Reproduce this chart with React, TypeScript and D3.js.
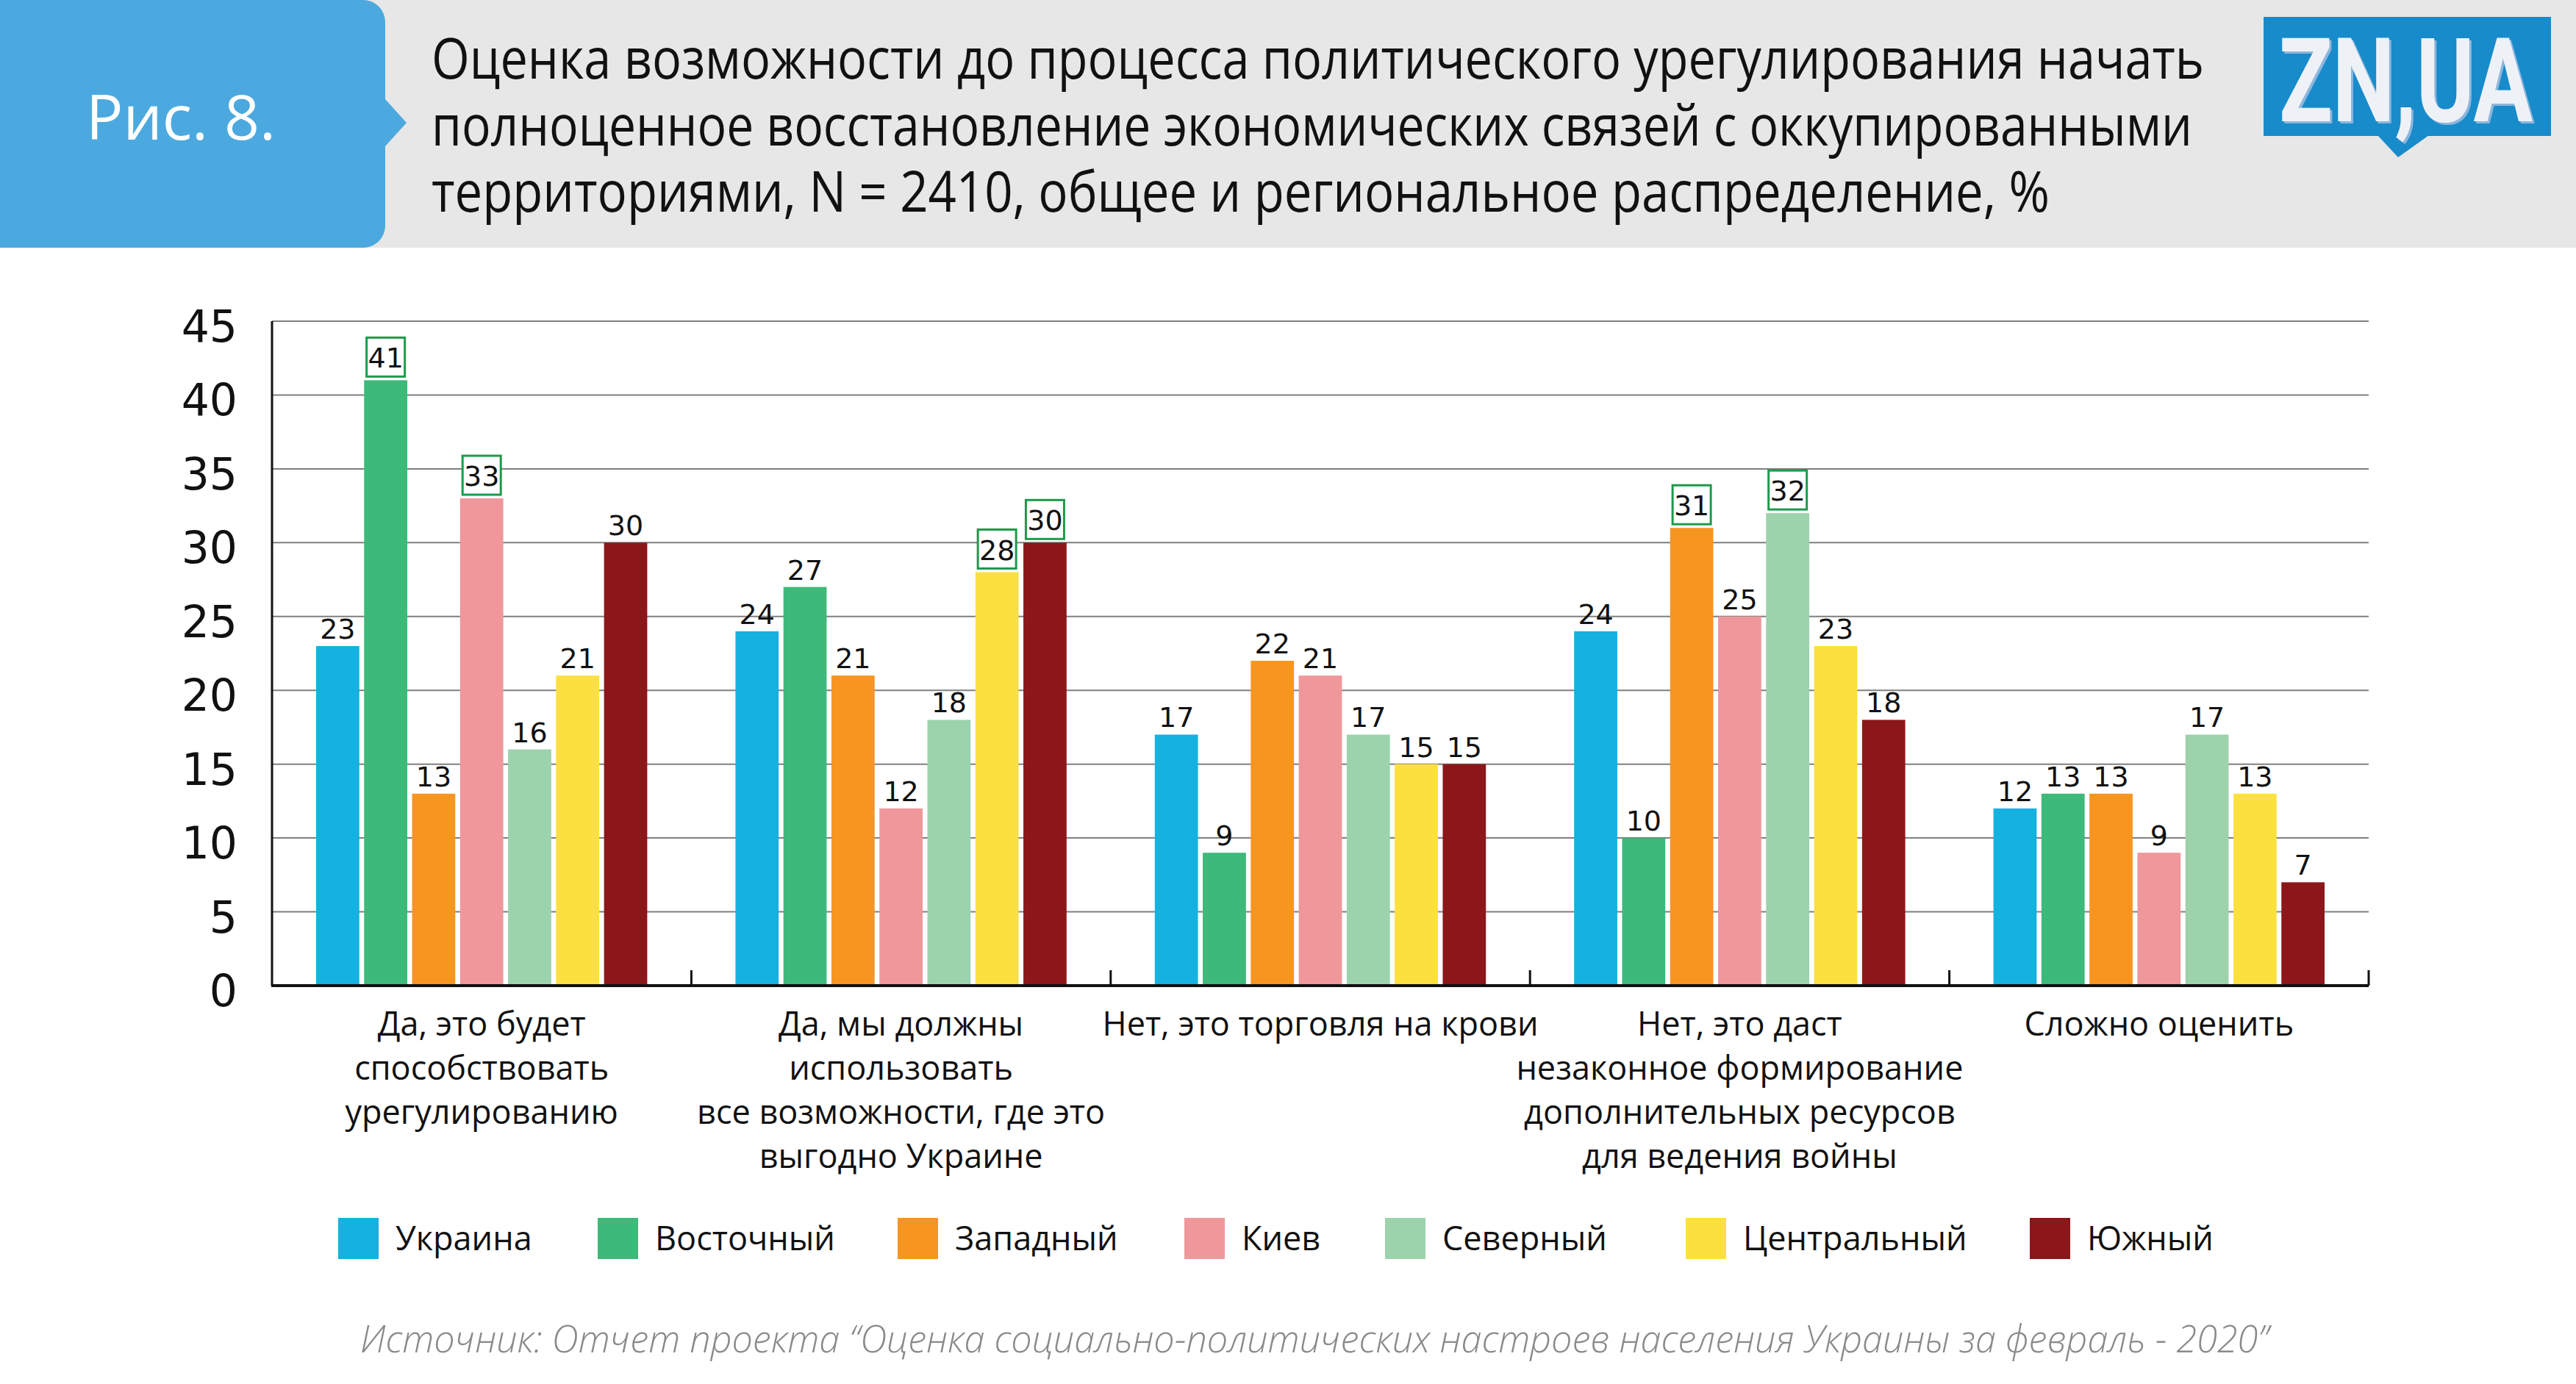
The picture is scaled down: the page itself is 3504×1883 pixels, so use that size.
import React from "react";
import * as d3 from "d3";

const W = 3504;
const H = 1883;

const categories = ["c1", "c2", "c3", "c4", "c5"];
const categoryLines = [
  ["Да, это будет", "способствовать", "урегулированию"],
  ["Да, мы должны", "использовать", "все возможности, где это", "выгодно Украине"],
  ["Нет, это торговля на крови"],
  ["Нет, это даст", "незаконное формирование", "дополнительных ресурсов", "для ведения войны"],
  ["Сложно оценить"],
];

const seriesNames = ["Украина", "Восточный", "Западный", "Киев", "Северный", "Центральный", "Южный"];
const seriesColors = ["#15B1E0", "#3DB979", "#F79521", "#EF979A", "#9CD3AC", "#FCE040", "#8B171B"];

const ukraine = [23, 24, 17, 24, 12];
const east = [41, 27, 9, 10, 13];
const west = [13, 21, 22, 31, 13];
const kyiv = [33, 12, 21, 25, 9];
const north = [16, 18, 17, 32, 17];
const center = [21, 28, 15, 23, 13];
const south = [30, 30, 15, 18, 7];
const seriesValues = [ukraine, east, west, kyiv, north, center, south];

// [series index, category index] of boxed labels
const highlights = [[1, 0], [3, 0], [5, 1], [6, 1], [2, 3], [4, 3]];

const yTicks = [0, 5, 10, 15, 20, 25, 30, 35, 40, 45];

const titleLines = [
  "Оценка возможности до процесса политического урегулирования начать",
  "полноценное восстановление экономических связей с оккупированными",
  "территориями, N = 2410, общее и региональное распределение, %",
];
const titleWidths = [2411, 2395, 2201];
const source = "Источник: Отчет проекта “Оценка социально-политических настроев населения Украины за февраль - 2020”";

export default function App() {
  const left = 370;
  const right = 3222;
  const y = d3.scaleLinear().domain([0, 45]).range([1341, 437]);
  const x0 = d3.scaleBand<string>().domain(categories).range([left, right]);
  const bw0 = x0.bandwidth();
  const x1 = d3.scaleBand<string>().domain(seriesNames).range([60, bw0 - 60]).paddingInner(0.1);
  const bw = x1.bandwidth();
  const isHi = (s: number, c: number) => highlights.some(([a, b]) => a === s && b === c);
  const font = "'Open Sans', 'Noto Sans', sans-serif";
  const numFont = "'DejaVu Sans', sans-serif";

  const legendX = [460, 813, 1221, 1611, 1884, 2293, 2761];

  const r = 30;
  const bx = 524;
  const bh = 337;
  const boxPath = `M0,0 H${bx - r} A${r},${r} 0 0 1 ${bx},${r} V135 L553,167 L${bx},199 V${bh - r} A${r},${r} 0 0 1 ${bx - r},${bh} H0 Z`;

  return (
    <svg width={W} height={H} style={{ position: "absolute", left: 0, top: 0, display: "block", background: "#fff" }}>
      <defs>
        <filter id="logoShadow" x="-5%" y="-5%" width="110%" height="115%">
          <feDropShadow dx={3} dy={3} stdDeviation={0.5} floodColor="#8DB6DC" floodOpacity={1} />
        </filter>
      </defs>
      <rect x={0} y={0} width={W} height={H} fill="#fff" />
      {/* header */}
      <rect x={0} y={0} width={W} height={bh} fill="#E7E7E7" />
      <path d={boxPath} fill="#4CA9DF" />
      <text x={246} y={190} fill="#fff" fontFamily={font} fontSize={84} textAnchor="middle">Рис. 8.</text>
      {titleLines.map((t, i) => (
        <text key={i} x={587} y={107 + i * 90.5} fontFamily={font} fontSize={76} fill="#111"
          textLength={titleWidths[i]} lengthAdjust="spacingAndGlyphs">{t}</text>
      ))}
      {/* logo */}
      <rect x={3079} y={23} width={391} height={162} fill="#188BCB" />
      <path d="M3234,184 L3262,214 L3304,184 Z" fill="#188BCB" />
      <text x={3100} y={165} fontFamily="'Liberation Sans Narrow', 'Roboto', sans-serif" fontWeight="bold" fontSize={160}
        fill="#EEF2F7" textLength={345} lengthAdjust="spacingAndGlyphs" filter="url(#logoShadow)">ZN,UA</text>

      {/* gridlines */}
      {yTicks.filter((t) => t > 0).map((t) => (
        <line key={t} x1={left} x2={right} y1={y(t)} y2={y(t)} stroke="#7F7F7F" strokeWidth={2} />
      ))}
      {/* y tick labels */}
      {yTicks.map((t) => (
        <text key={t} x={323} y={y(t) + 28} textAnchor="end" fontFamily={numFont} fontSize={60} fill="#111">{t}</text>
      ))}

      {/* bars */}
      {categories.map((c, ci) => (
        <g key={c} transform={`translate(${x0(c)},0)`}>
          {seriesNames.map((s, si) => {
            const v = seriesValues[si][ci];
            const bx1 = x1(s) as number;
            const cx = bx1 + bw / 2;
            const hi = isHi(si, ci);
            return (
              <g key={s}>
                <rect x={bx1} y={y(v)} width={bw} height={y(0) - y(v)} fill={seriesColors[si]} />
                {hi && (
                  <rect x={cx - 26} y={y(v) - 58} width={52} height={53} fill="#fff" stroke="#1E9A4B" strokeWidth={3} />
                )}
                <text x={cx} y={y(v) - (hi ? 17 : 10)} textAnchor="middle" fontFamily={numFont} fontSize={38} fill="#111">{v}</text>
              </g>
            );
          })}
        </g>
      ))}

      {/* axes */}
      <line x1={left} x2={left} y1={y(45)} y2={y(0)} stroke="#111" strokeWidth={3} />
      <line x1={left - 1} x2={right} y1={y(0)} y2={y(0)} stroke="#111" strokeWidth={4} />
      {categories.map((c) => (
        <line key={c} x1={(x0(c) as number) + bw0} x2={(x0(c) as number) + bw0} y1={y(0)} y2={y(0) - 21} stroke="#111" strokeWidth={3} />
      ))}

      {/* category labels */}
      {categories.map((c, ci) => (
        <text key={c} textAnchor="middle" fontFamily={font} fontSize={45} fill="#111">
          {categoryLines[ci].map((l, li) => (
            <tspan key={li} x={(x0(c) as number) + bw0 / 2} y={1409 + li * 60}>{l}</tspan>
          ))}
        </text>
      ))}

      {/* legend */}
      {seriesNames.map((s, i) => (
        <g key={s}>
          <rect x={legendX[i]} y={1657} width={55} height={56} fill={seriesColors[i]} />
          <text x={legendX[i] + 78} y={1701} fontFamily={font} fontSize={45} fill="#111">{s}</text>
        </g>
      ))}

      {/* source */}
      <text x={490} y={1840} fontFamily={font} fontStyle="italic" fontWeight={300} fontSize={52} fill="#8A8A8A"
        textLength={2596} lengthAdjust="spacingAndGlyphs">{source}</text>
    </svg>
  );
}
